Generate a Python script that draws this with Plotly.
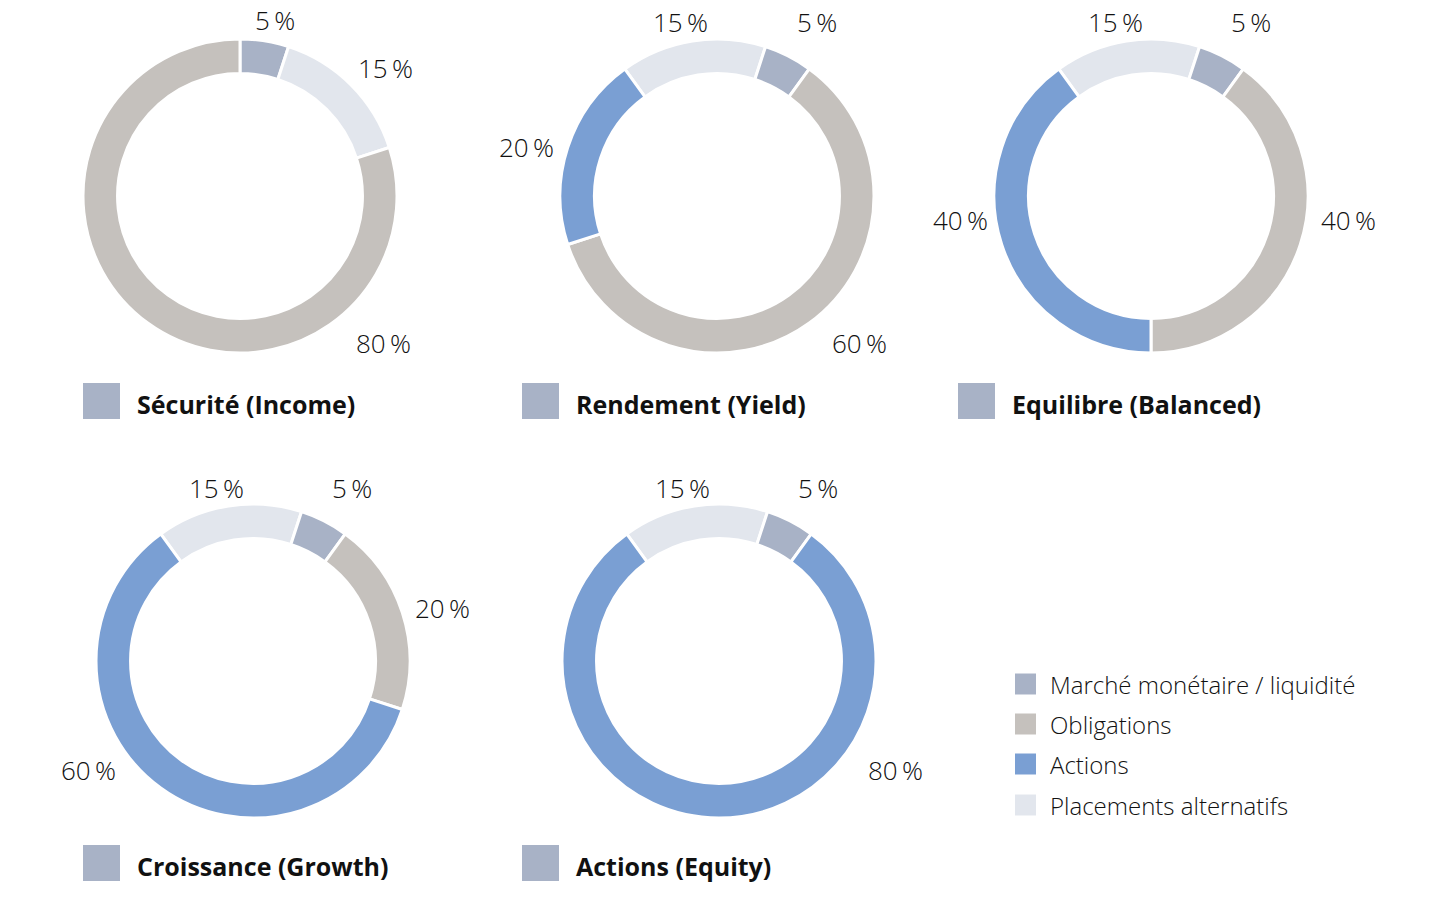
import plotly.graph_objects as go

# ---- data ----
categories = ["Marché monétaire / liquidité", "Obligations", "Actions", "Placements alternatifs"]
portfolios = ["Sécurité (Income)", "Rendement (Yield)", "Equilibre (Balanced)",
              "Croissance (Growth)", "Actions (Equity)"]
money_market = [5, 5, 5, 5, 5]
bonds = [80, 60, 40, 20, 0]
equities = [0, 20, 40, 60, 80]
alternatives = [15, 15, 15, 15, 15]

# ---- styles ----
W, H = 1440, 912
colors = {
    "Marché monétaire / liquidité": "#a8b2c6",
    "Obligations": "#c5c1bd",
    "Actions": "#7a9fd3",
    "Placements alternatifs": "#e2e6ed",
}
TEXT = "#111111"
FONT = "Open Sans"

# donut centres (px in window) and radius
centers = [(240, 196), (717, 196), (1151, 196), (253, 661), (719, 661)]
R = 157
HOLE = 0.78
# slice order (clockwise) and start angle for each donut
orders = [
    ["Marché monétaire / liquidité", "Placements alternatifs", "Obligations", "Actions"],
    ["Placements alternatifs", "Marché monétaire / liquidité", "Obligations", "Actions"],
    ["Placements alternatifs", "Marché monétaire / liquidité", "Obligations", "Actions"],
    ["Placements alternatifs", "Marché monétaire / liquidité", "Obligations", "Actions"],
    ["Placements alternatifs", "Marché monétaire / liquidité", "Obligations", "Actions"],
]
rotations = [0, -36, -36, -36, -36]
# label positions (px, text centre) for each category in each donut
label_pos = [
    {"Marché monétaire / liquidité": (275, 20), "Placements alternatifs": (385, 68),
     "Obligations": (383, 343)},
    {"Placements alternatifs": (680, 22), "Marché monétaire / liquidité": (817, 22),
     "Actions": (526, 147), "Obligations": (859, 343)},
    {"Placements alternatifs": (1115, 22), "Marché monétaire / liquidité": (1251, 22),
     "Actions": (960, 220), "Obligations": (1348, 220)},
    {"Placements alternatifs": (216, 488), "Marché monétaire / liquidité": (352, 488),
     "Obligations": (442, 608), "Actions": (88, 770)},
    {"Placements alternatifs": (682, 488), "Marché monétaire / liquidité": (818, 488),
     "Actions": (895, 770)},
]
title_square_x = [83, 522, 958, 83, 522]
title_text_x = [135, 574, 1010, 135, 574]
title_y = [401, 401, 401, 863, 863]


def px(x, y):
    return x / W, 1 - y / H


values_by_cat = {
    "Marché monétaire / liquidité": money_market,
    "Obligations": bonds,
    "Actions": equities,
    "Placements alternatifs": alternatives,
}

fig = go.Figure()
annotations = []
shapes = []

for i, name in enumerate(portfolios):
    cx, cy = centers[i]
    labs, vals = [], []
    for c in orders[i]:
        v = values_by_cat[c][i]
        if v > 0:
            labs.append(c)
            vals.append(v)
    x0, y1 = px(cx - R, cy - R)
    x1, y0 = px(cx + R, cy + R)
    fig.add_trace(go.Pie(
        labels=labs, values=vals, hole=HOLE, sort=False, direction="clockwise",
        rotation=rotations[i], textinfo="none", hoverinfo="label+value",
        marker=dict(colors=[colors[l] for l in labs], line=dict(color="white", width=3)),
        domain=dict(x=[x0, x1], y=[y0, y1]), showlegend=False, name=name,
    ))
    # value labels
    for c, v in zip(labs, vals):
        lx, ly = px(*label_pos[i][c])
        annotations.append(dict(
            x=lx, y=ly, xref="paper", yref="paper", text=f"{v}\u2009%",
            showarrow=False, xanchor="center", yanchor="middle",
            font=dict(family=FONT, size=26, color=TEXT, weight=300),
        ))
    # title with square
    sx = title_square_x[i]
    ty = title_y[i]
    ax0, ay1 = px(sx, ty - 18)
    ax1, ay0 = px(sx + 37, ty + 18)
    shapes.append(dict(type="rect", xref="paper", yref="paper",
                       x0=ax0, x1=ax1, y0=ay0, y1=ay1,
                       fillcolor=colors["Marché monétaire / liquidité"], line=dict(width=0)))
    tx, tyy = px(title_text_x[i], ty + 3)
    annotations.append(dict(
        x=tx, y=tyy, xref="paper", yref="paper", text=name, showarrow=False,
        xanchor="left", yanchor="middle",
        font=dict(family=FONT, size=25, color=TEXT, weight=700),
    ))

# legend (manual)
leg_x = 1015
leg_y = [684, 724, 764, 805]
for c, y in zip(categories, leg_y):
    bx0, by1 = px(leg_x, y - 10.5)
    bx1, by0 = px(leg_x + 21, y + 10.5)
    shapes.append(dict(type="rect", xref="paper", yref="paper",
                       x0=bx0, x1=bx1, y0=by0, y1=by1,
                       fillcolor=colors[c], line=dict(width=0)))
    tx, ty = px(leg_x + 33, y)
    annotations.append(dict(
        x=tx, y=ty, xref="paper", yref="paper", text=c, showarrow=False,
        xanchor="left", yanchor="middle",
        font=dict(family=FONT, size=24, color=TEXT, weight=300),
    ))

fig.update_layout(
    width=W, height=H, margin=dict(l=0, r=0, t=0, b=0),
    paper_bgcolor="white", plot_bgcolor="white",
    annotations=annotations, shapes=shapes, showlegend=False,
)
fig.write_html(
    "out.html",
    config={"displayModeBar": False},
    post_script="document.body.style.margin='0';document.body.style.overflow='hidden';",
)
